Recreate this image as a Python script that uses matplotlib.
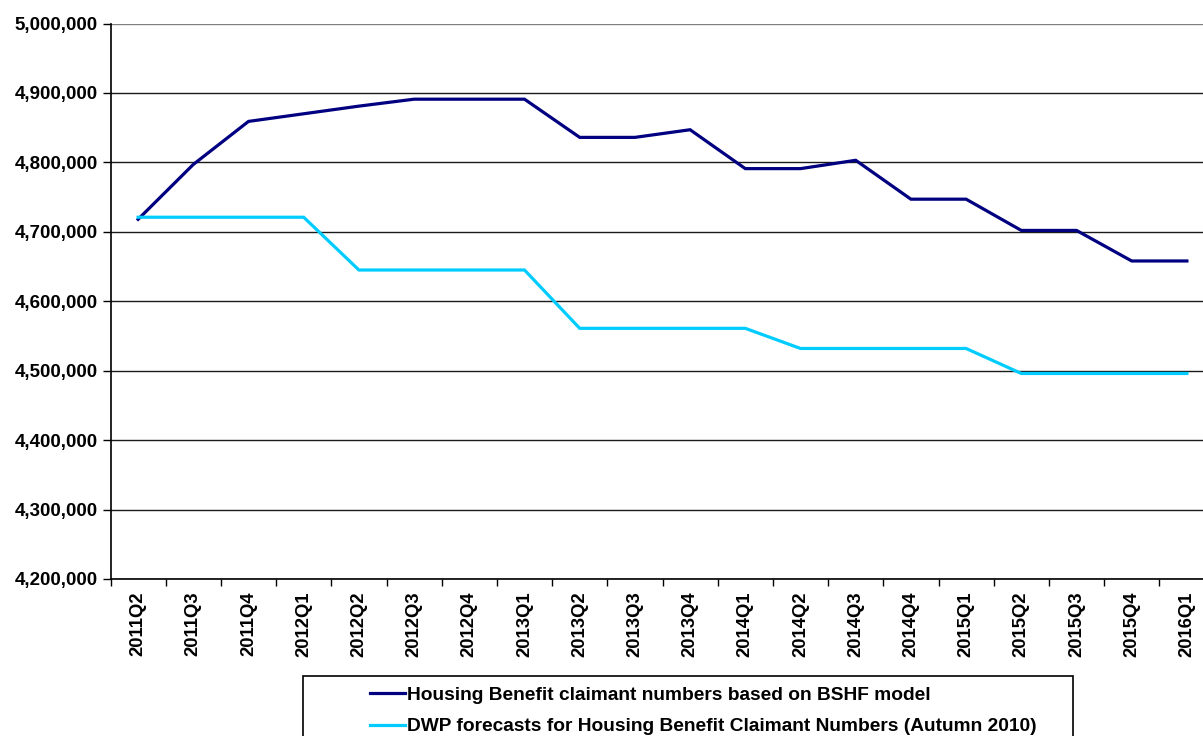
import numpy as np
import matplotlib.pyplot as plt
from matplotlib.patches import Rectangle
from matplotlib.ticker import FuncFormatter

plt.rcParams['font.family'] = ['Liberation Sans', 'DejaVu Sans']
plt.rcParams['font.weight'] = 'bold'

quarters = ['2011Q2', '2011Q3', '2011Q4', '2012Q1', '2012Q2', '2012Q3', '2012Q4',
            '2013Q1', '2013Q2', '2013Q3', '2013Q4', '2014Q1', '2014Q2', '2014Q3',
            '2014Q4', '2015Q1', '2015Q2', '2015Q3', '2015Q4', '2016Q1']

bshf = [4718000, 4797000, 4859000, 4870000, 4881000, 4891000, 4891000,
        4891000, 4836000, 4836000, 4847000, 4791000, 4791000, 4803000,
        4747000, 4747000, 4702000, 4702000, 4658000, 4658000]

dwp = [4721000, 4721000, 4721000, 4721000, 4645000, 4645000, 4645000,
       4645000, 4561000, 4561000, 4561000, 4561000, 4532000, 4532000,
       4532000, 4532000, 4496000, 4496000, 4496000, 4496000]

label_bshf = 'Housing Benefit claimant numbers based on BSHF model'
label_dwp = 'DWP forecasts for Housing Benefit Claimant Numbers (Autumn 2010)'

W, H = 1203, 736
fig = plt.figure(figsize=(W / 100, H / 100), dpi=100)
# plot area runs a little past the right edge of the figure
ax = fig.add_axes([110.5 / W, 1 - 579 / H, (1214.5 - 110.5) / W, (579 - 23.5) / H])

x = np.arange(len(quarters))
l1, = ax.plot(x, bshf, color='#000080', lw=2.3, solid_joinstyle='miter')
l2, = ax.plot(x, dwp, color='#00CCFF', lw=2.3, solid_joinstyle='miter')

ax.set_xlim(-0.5, len(quarters) - 0.5)
ax.set_ylim(4200000, 5000000)
ax.set_yticks(np.arange(4200000, 5000001, 100000))
ax.yaxis.set_major_formatter(FuncFormatter(lambda v, p: f'{int(v):,}'))
ax.grid(axis='y', color='#1a1a1a', lw=1)
ax.get_ygridlines()[-1].set_color('#808080')
ax.set_axisbelow(True)

# category labels sit between the boundary ticks
ax.set_xticks(np.arange(len(quarters) + 1) - 0.5)
ax.set_xticklabels([])
ax.set_xticks(x, minor=True)
ax.set_xticklabels(quarters, minor=True, rotation=90, fontsize=13.3, fontweight='bold')
ax.tick_params(axis='x', which='minor', length=0, pad=9)
ax.tick_params(axis='x', which='major', length=5, width=1, direction='out')
ax.tick_params(axis='y', length=6, width=1, direction='out', labelsize=13.5, pad=3)
for lab in ax.get_yticklabels():
    lab.set_fontweight('bold')

for s in ['top', 'right']:
    ax.spines[s].set_visible(False)
for s in ['left', 'bottom']:
    ax.spines[s].set_linewidth(1.2)
    ax.spines[s].set_color('black')

# legend box drawn separately so the entries can be offset inside it
fig.patches.append(Rectangle((303 / W, -0.1), (1073 - 303) / W, 0.1 + (H - 676) / H,
                             transform=fig.transFigure, fill=False, ec='black', lw=1.2))
fig.legend([l1, l2], [label_bshf, label_dwp], loc='upper left',
           bbox_to_anchor=(360 / W, 1 - 677 / H), frameon=False, borderpad=0,
           handlelength=1.85, handletextpad=0.1, labelspacing=0.72,
           prop={'size': 13.8, 'weight': 'bold'})

fig.savefig('out.png', dpi=100)
